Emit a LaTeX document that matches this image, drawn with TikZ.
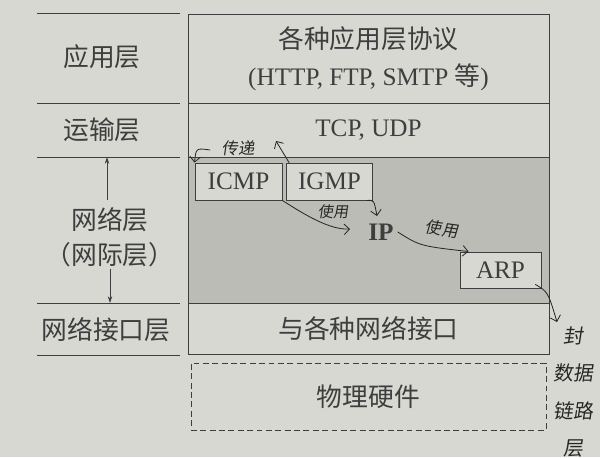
\documentclass[tikz,border=0pt]{standalone}
\usepackage{fontspec}
\setmainfont{Liberation Serif}
\newfontfamily\cjk{Noto Sans CJK SC}
\newfontfamily\hand{Noto Sans CJK SC}[FakeSlant=0.15]
\usetikzlibrary{arrows.meta,positioning}
\definecolor{paper}{RGB}{216,216,211}
\definecolor{shade}{RGB}{188,188,183}
\definecolor{ink}{RGB}{62,62,62}
\definecolor{pen}{RGB}{38,38,38}
\newcommand{\zh}{\cjk\fontsize{22}{30}\selectfont}

\begin{document}
\begin{tikzpicture}[x=0.03cm, y=-0.03cm, every node/.style={font=\fontsize{21.5}{31.5}\selectfont, text=ink},
      layer/.style={draw=ink, line width=0.8pt, minimum width=10.83cm, inner sep=0pt, align=center},
      proto/.style={draw=ink, line width=0.8pt, fill=paper, minimum height=1.11cm, inner sep=0pt},
      side/.style={font=\zh, align=center},
      rule/.style={draw=ink, line width=0.8pt},
      arr/.style={draw=ink, line width=0.6pt, -{Stealth[length=2mm, width=1.3mm]}},
      note/.style={font=\hand\fontsize{14}{17}\selectfont, text=pen, align=center, inner sep=0pt},
      scribble/.style={draw=pen, line width=0.7pt, line cap=round, -{Straight Barb[length=1.6mm]}}]
    \fill[paper] (0,0) rectangle (600,457);
    \useasboundingbox (0,0) rectangle (600,457);
    % layers on the right
    \node[layer, minimum height=2.67cm] (app) at (368.5,58.5) {{\zh 各种应用层协议}\\(HTTP, FTP, SMTP {\zh 等})};
    \node[layer, minimum height=1.62cm] (tr) at (368.5,130) {TCP, UDP};
    \node[layer, fill=shade, minimum height=4.38cm] (net) at (368.5,230) {};
    \node[layer, minimum height=1.53cm, font=\zh] (nif) at (368.5,328.5) {与各种网络接口};
    \node[layer, dash pattern=on 5pt off 3pt, minimum width=10.65cm, minimum height=2.01cm, font=\zh] (hw) at (368.5,396.5) {物理硬件};
    \node[proto, minimum width=2.61cm] (icmp) at (238.5,181.5) {ICMP};
    \node[proto, minimum width=2.58cm] (igmp) at (329.5,181.5) {IGMP};
    \node[font=\bfseries\fontsize{21.5}{24}\selectfont] (ip) at (381,232) {IP};
    \node[proto, minimum width=2.43cm, minimum height=1.08cm] (arp) at (500.5,270) {ARP};
    % layer names on the left
    \foreach \y in {13,103,157,303,355} \draw[rule] (37,\y) -- (180,\y);
    \node[side] (lapp) at (102,57) {应用层};
    \node[side] (ltr) at (102,130) {运输层};
    \node[side, font=\cjk\fontsize{22}{30}\selectfont] (lnet) at (110,237) {网络层\\（网际层）};
    \node[side] (lnif) at (106,330) {网络接口层};
    \coordinate (ntop) at (107,157);
    \coordinate (nbot) at (110,303);
    \draw[arr] (lnet.north) ++(-3,-3) -- (ntop);
    \draw[arr] (lnet.south) ++(0,-2) -- (nbot);
    % pen notes
    \coordinate (upend) at (276,141);
    \coordinate (ifout) at (557,322);
    \draw[scribble] (icmp.south east) .. controls (305,215) and (330,230) .. (350,229);
    \draw[scribble] (igmp.south east) ++(-6,0) .. controls (374,200) .. (377,216);
    \draw[scribble] (ip.east) .. controls (420,246) .. (arp.150);
    \draw[scribble] (arp.south east) ++(-6,-4) .. controls (548,292) .. (ifout);
    \draw[scribble] (igmp.north west) ++(3,0) -- (upend);
    \draw[scribble] (210,150) .. controls (196,148) .. (icmp.north west);
    \node[note] (n1) at (238,148) {传递};
    \node[note, font=\hand\fontsize{13}{16}\selectfont] (n2) at (333,212) {使用};
    \node[note, rotate=-8] (n3) at (442,229) {使用};
    \node[note, font=\hand\fontsize{17}{32}\selectfont] (n4) at (573,392) {封\\数据\\链路\\层};
  \end{tikzpicture}
\end{document}
